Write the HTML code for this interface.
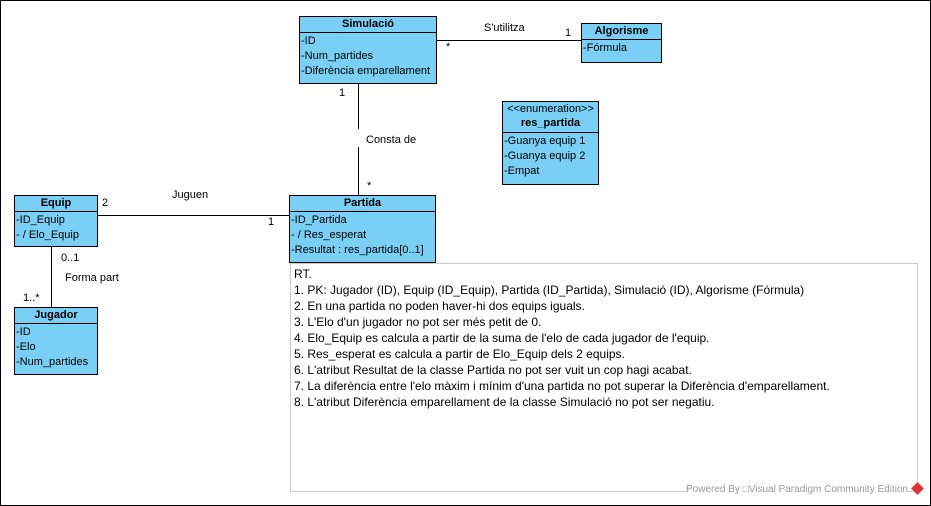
<!DOCTYPE html>
<html><head><meta charset="utf-8"><style>
body{margin:0;width:931px;height:506px;overflow:hidden;background:#fff;font-family:"Liberation Sans",sans-serif;font-size:11px;color:#000}
#wrap{position:absolute;left:0;top:0;width:929px;height:504px;border:1px solid #000}
.b{position:absolute;background:#7acff5;border:1px solid #000;box-sizing:border-box}
.h{font-weight:bold;text-align:center;border-bottom:1px solid #000;height:15px;line-height:15px}
.r{height:15px;line-height:17px;white-space:nowrap;padding-left:1px}
.t{position:absolute;white-space:nowrap;line-height:13px}
.l{position:absolute;background:#000}
#note{position:absolute;left:290px;top:263px;width:628px;height:229px;border:1px solid #ccc;box-sizing:border-box;font-size:12px;padding:2px 0 0 3px;line-height:16px}
</style></head><body><div id="wrap"></div>
<div class="l" style="left:436px;top:40px;width:145px;height:1px"></div>
<div class="l" style="left:358px;top:83px;width:1px;height:46px"></div>
<div class="l" style="left:358px;top:147px;width:1px;height:48px"></div>
<div class="l" style="left:97px;top:215px;width:192px;height:1px"></div>
<div class="l" style="left:51px;top:246px;width:1px;height:61px"></div>

<div class="b" style="left:299px;top:16px;width:138px;height:68px"><div class="h">Simulació</div><div class="r">-ID</div><div class="r">-Num_partides</div><div class="r">-Diferència emparellament</div></div>
<div class="b" style="left:581px;top:23px;width:81px;height:40px"><div class="h">Algorisme</div><div class="r">-Fórmula</div></div>
<div class="b" style="left:502px;top:101px;width:97px;height:84px"><div style="text-align:center;height:14px;line-height:14px">&lt;&lt;enumeration&gt;&gt;</div><div class="h" style="height:16px">res_partida</div><div class="r">-Guanya equip 1</div><div class="r">-Guanya equip 2</div><div class="r">-Empat</div></div>
<div class="b" style="left:14px;top:195px;width:84px;height:52px"><div class="h">Equip</div><div class="r">-ID_Equip</div><div class="r">- / Elo_Equip</div></div>
<div class="b" style="left:289px;top:195px;width:147px;height:68px"><div class="h">Partida</div><div class="r">-ID_Partida</div><div class="r">- / Res_esperat</div><div class="r">-Resultat : res_partida[0..1]</div></div>
<div class="b" style="left:14px;top:307px;width:84px;height:68px"><div class="h">Jugador</div><div class="r">-ID</div><div class="r">-Elo</div><div class="r">-Num_partides</div></div>

<div class="t" style="left:484px;top:22px">S'utilitza</div>
<div class="t" style="left:446px;top:41px">*</div>
<div class="t" style="left:565px;top:27px">1</div>
<div class="t" style="left:339px;top:87px">1</div>
<div class="t" style="left:366px;top:134px">Consta de</div>
<div class="t" style="left:367px;top:180px">*</div>
<div class="t" style="left:102px;top:197px">2</div>
<div class="t" style="left:172px;top:189px">Juguen</div>
<div class="t" style="left:268px;top:216px">1</div>
<div class="t" style="left:61px;top:252px">0..1</div>
<div class="t" style="left:65px;top:272px">Forma part</div>
<div class="t" style="left:23px;top:292px">1..*</div>

<div id="note">RT.<br>1. PK: Jugador (ID), Equip (ID_Equip), Partida (ID_Partida), Simulació (ID), Algorisme (Fórmula)<br>2. En una partida no poden haver-hi dos equips iguals.<br>3. L'Elo d'un jugador no pot ser més petit de 0.<br>4. Elo_Equip es calcula a partir de la suma de l'elo de cada jugador de l'equip.<br>5. Res_esperat es calcula a partir de Elo_Equip dels 2 equips.<br>6. L'atribut Resultat de la classe Partida no pot ser vuit un cop hagi acabat.<br>7. La diferència entre l'elo màxim i mínim d'una partida no pot superar la Diferència d'emparellament.<br>8. L'atribut Diferència emparellament de la classe Simulació no pot ser negatiu.</div>
<div class="t" style="left:686px;top:483px;color:#999;font-size:10px;background:#fff">Powered By &#9633;Visual Paradigm Community Edition</div>
<div style="position:absolute;left:913px;top:484px;width:9px;height:9px;background:#d33;transform:rotate(45deg)"></div>
</body></html>
